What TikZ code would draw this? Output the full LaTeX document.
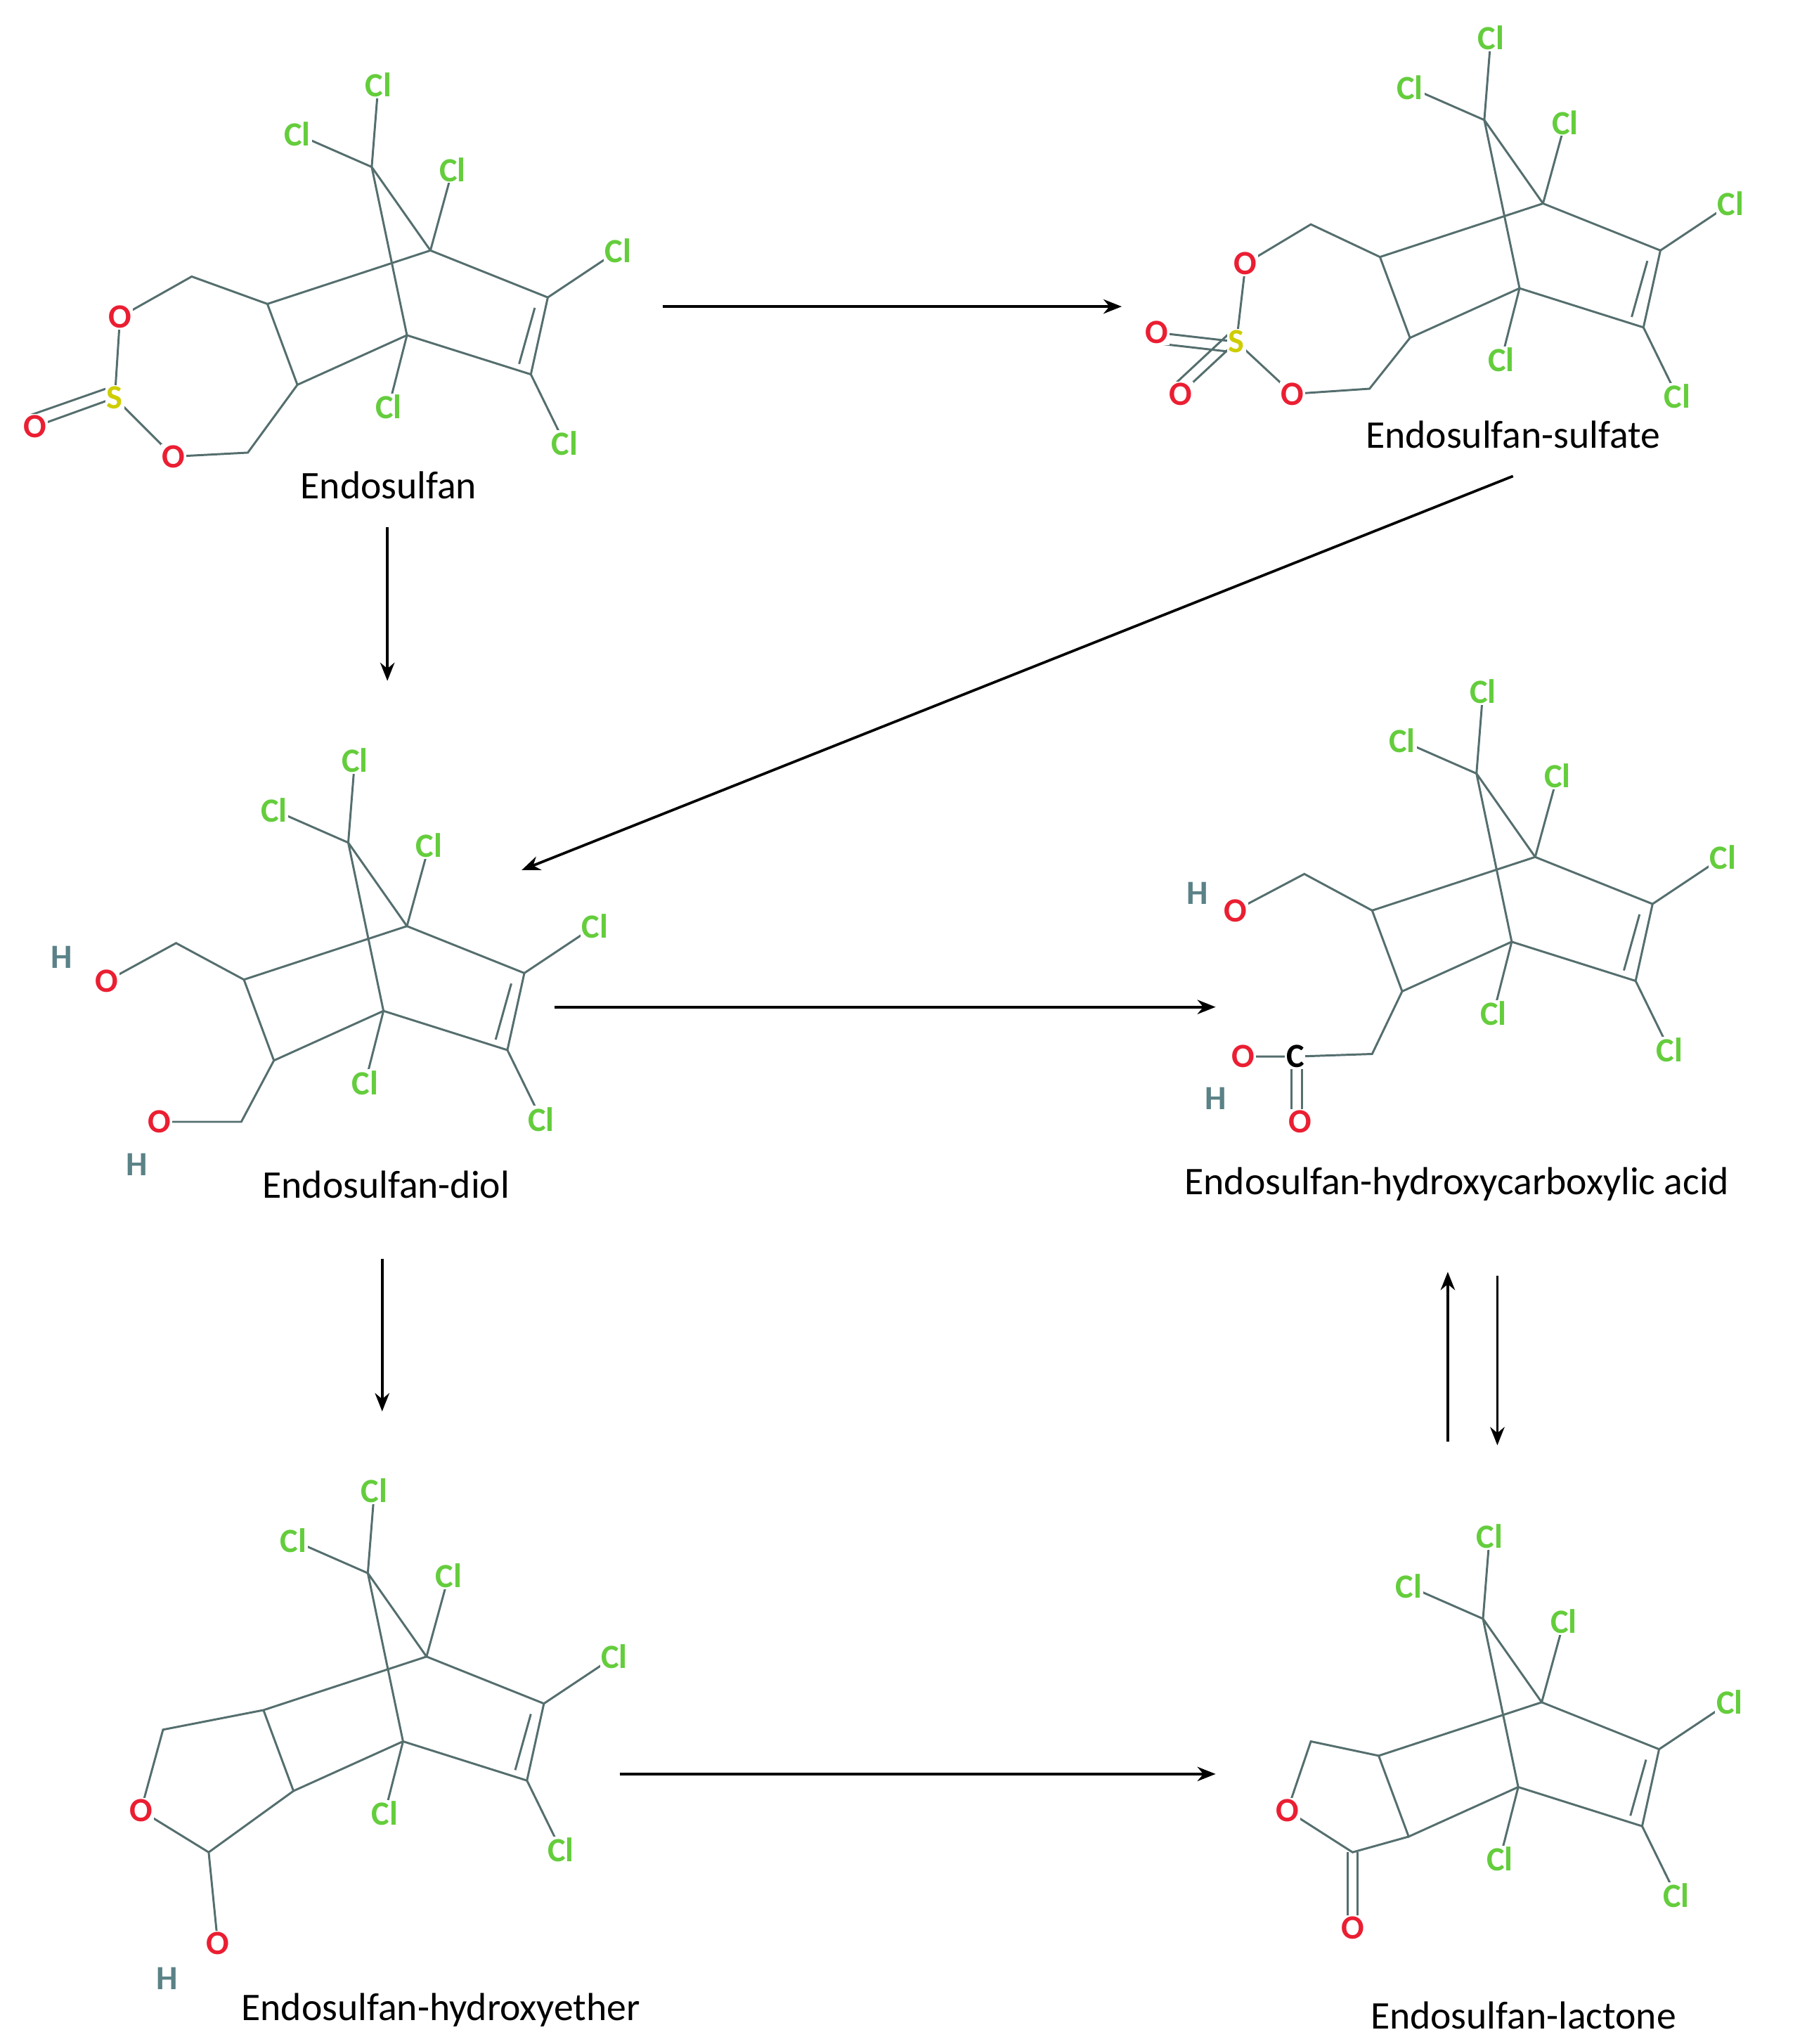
\documentclass[tikz,border=0pt]{standalone}
\usepackage{fontspec}
\setmainfont{Carlito}
\usetikzlibrary{arrows.meta}
\definecolor{clg}{RGB}{100,205,60}
\definecolor{ored}{RGB}{235,30,50}
\definecolor{syel}{RGB}{205,205,0}
\definecolor{hgr}{RGB}{90,130,135}
\definecolor{bnd}{RGB}{85,110,110}
\tikzset{
 bond/.style={draw=bnd,line width=1.6pt},
 lab/.style={fill=white,inner sep=1pt,font=\fontsize{26}{26}\selectfont\bfseries},
 cl/.style={lab,text=clg},
 ox/.style={lab,text=ored},
 hy/.style={lab,text=hgr},
 title/.style={font=\fontsize{30}{30}\selectfont},
 arr/.style={draw=black,line width=2pt,-{Stealth[length=14pt,width=11pt]}}
}
\newcommand\mycage[2]{%
\begin{scope}[shift={(#1,#2)}]
\draw[bond] (285,128)--(290,65) (285,128)--(228,103);
\draw[bond] (285,128)--(330,192)--(420,228)--(407,287)--(312,257)--(285,128);
\draw[bond] (410,236)--(398,279);
\draw[bond] (330,192)--(347,130) (420,228)--(474,192) (407,287)--(433,340) (312,257)--(298,312);
\draw[bond] (205,233)--(330,192) (205,233)--(228,295)--(312,257);
\node[cl] at (290,65) {Cl};
\node[cl] at (228,103) {Cl};
\node[cl] at (347,130) {Cl};
\node[cl] at (474,192) {Cl};
\node[cl] at (433,340) {Cl};
\node[cl] at (298,312) {Cl};
\end{scope}}
\begin{document}
\begin{tikzpicture}[x=1pt,y=-1pt]
\useasboundingbox (0,0) rectangle (1385,1567);
% Endosulfan
\mycage{0}{0}
\draw[bond] (205,233)--(147,212)--(92,243)--(88,305)--(133,350)--(190,347)--(228,295);
\draw[bond] (88,305)--(27,327) (84,297)--(24,318);
\node[ox] at (92,243) {O};
\node[ox] at (133,350) {O};
\node[lab,text=syel] at (88,305) {S};
\node[ox] at (27,327) {O};
\node[title] at (298,372) {Endosulfan};
% Sulfate
\mycage{853}{-36}
\draw[bond] (1058,197)--(1005,172)--(955,202)--(948,262)--(991,302)--(1050,298)--(1081,259);
\draw[bond] (948,262)--(887,255) (946,270)--(885,263) (948,262)--(905,302) (942,256)--(899,296);
\node[ox] at (955,202) {O};
\node[ox] at (991,302) {O};
\node[lab,text=syel] at (948,262) {S};
\node[ox] at (887,255) {O};
\node[ox] at (905,302) {O};
\node[title] at (1160,333) {Endosulfan-sulfate};
% Diol
\mycage{-18}{518}
\draw[bond] (187,751)--(135,723)--(82,752) (210,813)--(185,860)--(122,860);
\node[ox] at (82,752) {O};
\node[hy] at (47,734) {H};
\node[ox] at (122,860) {O};
\node[hy] at (105,893) {H};
\node[title] at (296,908) {Endosulfan-diol};
% Hydroxycarboxylic acid
\mycage{847}{465}
\draw[bond] (1052,698)--(1000,670)--(947,698) (1075,760)--(1052,808)--(993,810)--(953,810);
\draw[bond] (990,812)--(990,860) (998,812)--(998,860);
\node[ox] at (947,698) {O};
\node[hy] at (918,685) {H};
\node[ox] at (953,810) {O};
\node[lab] at (993,810) {C};
\node[ox] at (997,860) {O};
\node[hy] at (932,842) {H};
\node[title] at (1117,908) {Endosulfan-hydroxycarboxylic acid};
% Hydroxyether
\mycage{-3}{1078}
\draw[bond] (202,1311)--(125,1326)--(108,1388)--(160,1420)--(225,1373) (160,1420)--(167,1490);
\node[ox] at (108,1388) {O};
\node[ox] at (167,1490) {O};
\node[hy] at (128,1517) {H};
\node[title] at (338,1541) {Endosulfan-hydroxyether};
% Lactone
\mycage{852}{1113}
\draw[bond] (1057,1346)--(1005,1335)--(987,1388)--(1037,1420)--(1080,1408);
\draw[bond] (1033,1420)--(1033,1478) (1041,1420)--(1041,1478);
\node[ox] at (987,1388) {O};
\node[ox] at (1037,1478) {O};
\node[title] at (1168,1545) {Endosulfan-lactone};
% arrows
\coordinate (a1) at (508,235); \coordinate (b1) at (860,235);
\coordinate (a2) at (297,404); \coordinate (b2) at (297,522);
\coordinate (a3) at (1160,365); \coordinate (b3) at (400,667);
\coordinate (a4) at (425,772); \coordinate (b4) at (932,772);
\coordinate (a5) at (293,965); \coordinate (b5) at (293,1082);
\coordinate (a6) at (1110,1105); \coordinate (b6) at (1110,975);
\coordinate (a7) at (1148,978); \coordinate (b7) at (1148,1108);
\coordinate (a8) at (475,1360); \coordinate (b8) at (932,1360);
\foreach \i in {1,...,8} \draw[arr] (a\i)--(b\i);
\end{tikzpicture}
\end{document}
